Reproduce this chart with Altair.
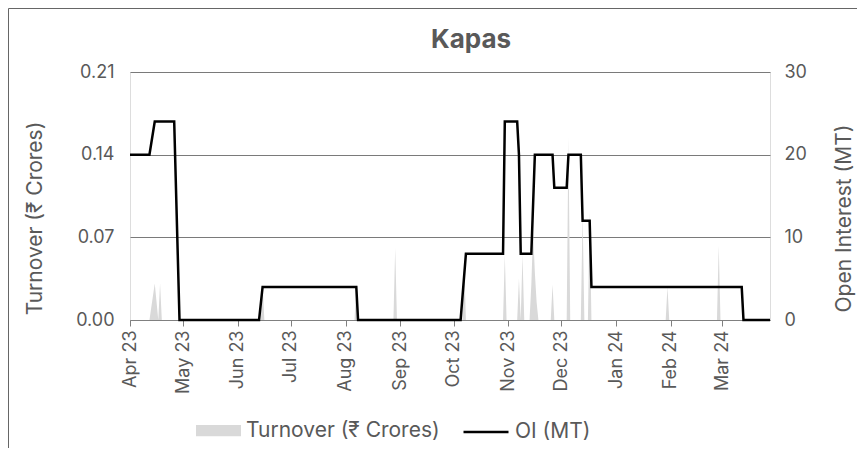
import altair as alt
import pandas as pd

# ---- data ----
oi_dates = ["2023-04-01", "2023-04-12", "2023-04-15", "2023-04-26", "2023-04-29",
            "2023-06-13", "2023-06-15", "2023-08-07", "2023-08-08", "2023-10-05",
            "2023-10-08", "2023-10-29", "2023-10-30", "2023-11-06", "2023-11-07",
            "2023-11-08", "2023-11-14", "2023-11-16", "2023-11-26", "2023-11-27",
            "2023-12-04", "2023-12-05", "2023-12-12", "2023-12-13", "2023-12-17",
            "2023-12-18", "2024-03-12", "2024-03-13", "2024-03-28"]
oi_values = [20, 20, 24, 24, 0,
             0, 4, 4, 0, 0,
             8, 8, 24, 24, 20,
             8, 8, 20, 20, 16,
             16, 20, 20, 12, 12,
             4, 4, 0, 0]

to_dates = ["2023-04-01", "2023-04-12", "2023-04-15", "2023-04-17", "2023-04-18", "2023-04-19",
            "2023-06-14", "2023-06-15", "2023-06-16",
            "2023-08-06", "2023-08-07", "2023-08-08",
            "2023-08-28", "2023-08-29", "2023-08-30",
            "2023-10-06", "2023-10-07", "2023-10-08",
            "2023-10-29", "2023-10-30", "2023-10-31",
            "2023-11-06", "2023-11-07", "2023-11-08", "2023-11-09", "2023-11-10",
            "2023-11-13", "2023-11-14", "2023-11-15", "2023-11-16", "2023-11-17", "2023-11-18",
            "2023-11-25", "2023-11-26", "2023-11-27",
            "2023-12-04", "2023-12-05", "2023-12-06",
            "2023-12-12", "2023-12-13", "2023-12-14",
            "2023-12-16", "2023-12-17", "2023-12-18",
            "2024-01-29", "2024-01-30", "2024-01-31",
            "2024-02-27", "2024-02-28", "2024-02-29",
            "2024-03-28"]
to_values = [0, 0, 0.031, 0, 0.031, 0,
             0, 0.03, 0,
             0, 0.031, 0,
             0, 0.061, 0,
             0, 0.05, 0,
             0, 0.055, 0,
             0, 0.035, 0, 0.055, 0,
             0, 0.03, 0.075, 0.04, 0.015, 0,
             0, 0.03, 0,
             0, 0.155, 0,
             0, 0.09, 0,
             0, 0.092, 0,
             0, 0.028, 0,
             0, 0.063, 0,
             0]

tick_months = [(2023, 4), (2023, 5), (2023, 6), (2023, 7), (2023, 8), (2023, 9),
               (2023, 10), (2023, 11), (2023, 12), (2024, 1), (2024, 2), (2024, 3)]
left_ticks = [0, 0.07, 0.14, 0.21]
right_ticks = [0, 10, 20, 30]
series_names = ["Turnover (₹ Crores)", "OI (MT)"]
chart_title = "Kapas"

oi_df = pd.DataFrame({"date": oi_dates, "oi": oi_values, "series": series_names[1]})
to_df = pd.DataFrame({"date": to_dates, "turnover": to_values, "series": series_names[0]})

FONT = "Inter"
GREY_TXT = "#595959"
LBL = 18
TTL = 21

x_scale = alt.Scale(type="utc",
                    domain=[alt.DateTime(year=2023, month=4, date=1, utc=True),
                            alt.DateTime(year=2024, month=3, date=28, utc=True)],
                    nice=False)
x_axis = alt.Axis(title=None, values=[alt.DateTime(year=y, month=m, date=1, utc=True) for y, m in tick_months],
                  format="%b %y", labelAngle=-90, labelFontSize=LBL, labelColor=GREY_TXT,
                  labelFont=FONT, domainColor="#808080", tickColor="#808080", tickSize=6,
                  labelPadding=4, grid=False)

area = alt.Chart(to_df).mark_area(interpolate="linear", opacity=1).encode(
    x=alt.X("date:T", scale=x_scale, axis=x_axis),
    y=alt.Y("turnover:Q", scale=alt.Scale(domain=[0, 0.21], nice=False),
            axis=alt.Axis(orient="left", values=left_ticks, format=".2f", title=series_names[0],
                          grid=True, gridColor="#7a7a7a", gridWidth=1, domain=False, ticks=False,
                          labelFontSize=LBL, labelColor=GREY_TXT, labelFont=FONT, labelPadding=16,
                          titleFontSize=TTL, titleFontWeight="normal", titleColor=GREY_TXT,
                          titleFont=FONT, titlePadding=30, titleY=146)),
    fill=alt.Fill("series:N",
                  scale=alt.Scale(domain=[series_names[0]], range=["#d9d9d9"]),
                  legend=alt.Legend(title=None, orient="none", legendX=66, legendY=336,
                                    symbolType="M-1,-0.25H1V0.25H-1Z", symbolSize=2025,
                                    symbolStrokeWidth=0, labelFontSize=TTL, labelFont=FONT,
                                    labelColor=GREY_TXT, labelOffset=5, labelLimit=400, padding=0)),
)

line = alt.Chart(oi_df).mark_line(strokeWidth=2.5, interpolate="linear").encode(
    x=alt.X("date:T", scale=x_scale, axis=x_axis),
    y=alt.Y("oi:Q", scale=alt.Scale(domain=[0, 30], nice=False),
            axis=alt.Axis(orient="right", values=right_ticks, format="d", title="Open Interest (MT)",
                          grid=False, domain=False, ticks=False,
                          labelFontSize=LBL, labelColor=GREY_TXT, labelFont=FONT, labelPadding=14,
                          titleFontSize=TTL, titleFontWeight="normal", titleColor=GREY_TXT,
                          titleFont=FONT, titlePadding=27, titleAngle=270, titleBaseline="top",
                          titleY=146)),
    stroke=alt.Stroke("series:N",
                      scale=alt.Scale(domain=[series_names[1]], range=["black"]),
                      legend=alt.Legend(title=None, orient="none", legendX=332, legendY=336,
                                        symbolType="stroke", symbolSize=2025, symbolStrokeWidth=2.5,
                                        labelFontSize=TTL, labelFont=FONT, labelColor=GREY_TXT,
                                        labelOffset=5, labelLimit=400, padding=0)),
)

deco = alt.Data(values=[{"title": chart_title}])
title_text = alt.Chart(deco).mark_text(fontSize=26, fontWeight="bold", color=GREY_TXT, font=FONT,
                                       align="center", baseline="alphabetic").encode(
    text="title:N", x=alt.value(341), y=alt.value(-24))
frame_left = alt.Chart(deco).mark_rule(color="#666666", strokeWidth=1).encode(
    x=alt.value(-121.5), y=alt.value(-63.5), y2=alt.value(400))
frame_top = alt.Chart(deco).mark_rule(color="#666666", strokeWidth=1).encode(
    x=alt.value(-121.5), x2=alt.value(740), y=alt.value(-63.5))

chart = alt.layer(area, line, title_text, frame_left, frame_top).resolve_scale(
    y="independent", fill="independent", stroke="independent"
).properties(
    width=640, height=248,
    autosize=alt.AutoSizeParams(type="none"),
    padding={"left": 122, "top": 64, "right": 87, "bottom": 128},
).configure_view(stroke=None).configure(font=FONT)

chart.save("out.html", embed_options={"renderer": "svg", "actions": False})
